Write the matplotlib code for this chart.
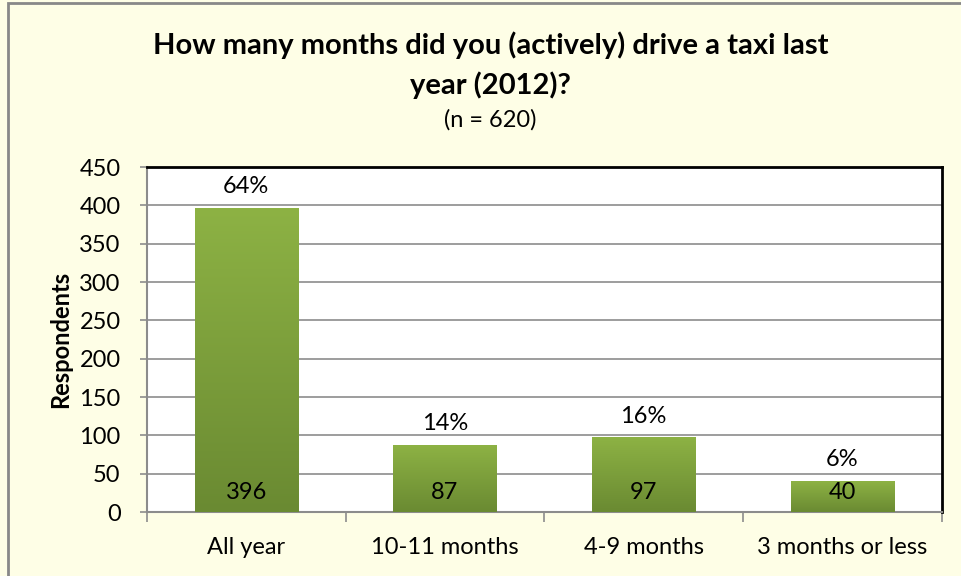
import numpy as np
import matplotlib.pyplot as plt
from matplotlib.patches import Rectangle
from matplotlib.colors import LinearSegmentedColormap

# -------- Datos --------
categorias = ["All year", "10-11 months", "4-9 months", "3 months or less"]
respondentes = [396, 87, 97, 40]
porcentajes = ["64%", "14%", "16%", "6%"]

# -------- Estilo --------
plt.rcParams['font.family'] = ['Lato', 'DejaVu Sans']
fondo = "#FEFEE6"
verde = LinearSegmentedColormap.from_list("verde", ["#6A8A32", "#8DB244"])

fig = plt.figure(figsize=(9.62, 5.76), dpi=100, facecolor=fondo)
fig.add_artist(Rectangle((0.008, -0.01), 1.5, 1.005, transform=fig.transFigure,
                         fill=False, edgecolor="#888888", linewidth=2))
ax = fig.add_axes([0.1528, 0.111, 0.826, 0.599])
ax.set_facecolor("white")

x = np.arange(len(categorias))
ancho = 0.52
grad = np.linspace(0, 1, 256).reshape(-1, 1)
for xi, v in zip(x, respondentes):
    ax.imshow(grad, cmap=verde, aspect="auto", origin="lower",
              extent=(xi - ancho / 2, xi + ancho / 2, 0, v), zorder=3)

for xi, v, p in zip(x, respondentes, porcentajes):
    ax.text(xi, v + 28, p, ha="center", va="center", fontsize=17, zorder=4)
    ax.text(xi, 26, str(v), ha="center", va="center", fontsize=17, zorder=4)

ax.set_xlim(-0.5, len(categorias) - 0.5)
ax.set_ylim(0, 450)
ax.set_yticks(np.arange(0, 451, 50))
ax.yaxis.grid(True, color="#8c8c8c", linewidth=1.2)
ax.set_axisbelow(True)
ax.set_xticks(x)
ax.set_xticklabels(categorias, fontsize=17)
ax.tick_params(axis="x", length=0, pad=18)
ax.set_xticks(np.arange(-0.5, len(categorias)), minor=True)
ax.tick_params(axis="x", which="minor", length=7, color="#8c8c8c", width=1.2)
ax.tick_params(axis="y", labelsize=17, length=5, color="#8c8c8c", width=1.2, pad=14)

ax.spines["left"].set_color("#8c8c8c")
ax.spines["bottom"].set_color("#8c8c8c")
ax.spines["left"].set_linewidth(1.5)
ax.spines["bottom"].set_linewidth(1.5)
ax.spines["top"].set_color("black")
ax.spines["right"].set_color("black")
ax.spines["top"].set_linewidth(2)
ax.spines["right"].set_linewidth(2)

ax.set_ylabel("Respondents", fontsize=17, fontweight="bold", labelpad=5)

fig.text(0.51, 0.921, "How many months did you (actively) drive a taxi last",
         ha="center", va="center", fontsize=21, fontweight="bold")
fig.text(0.51, 0.852, "year (2012)?", ha="center", va="center",
         fontsize=21, fontweight="bold")
fig.text(0.51, 0.792, "(n = 620)", ha="center", va="center", fontsize=17)

fig.savefig("out.png", dpi=100, facecolor=fondo)
